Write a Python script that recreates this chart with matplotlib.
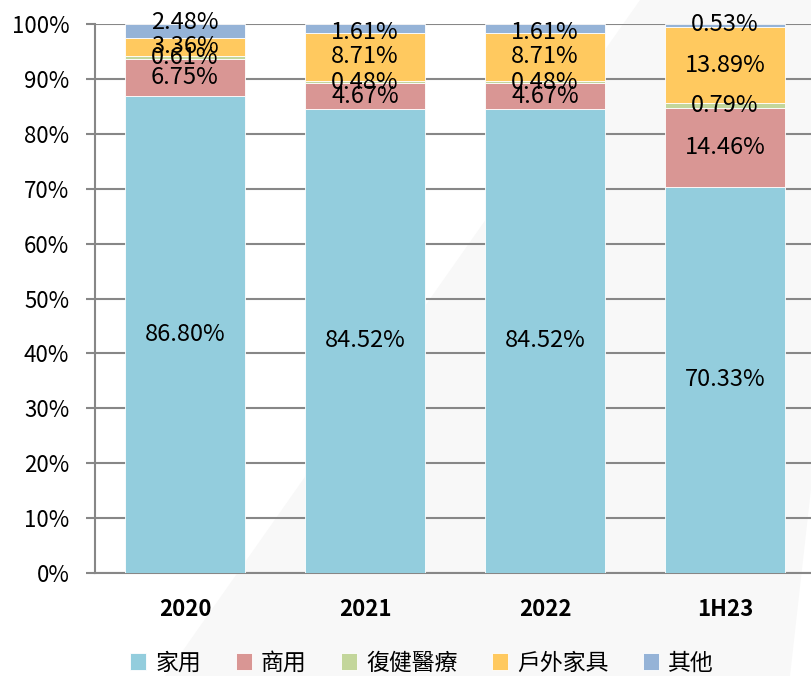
import numpy as np
import matplotlib.pyplot as plt
from matplotlib.patches import Polygon

plt.rcParams['font.family'] = ['Noto Sans CJK TC', 'DejaVu Sans']

# data (share of revenue, %)
years = ['2020', '2021', '2022', '1H23']
series = ['家用', '商用', '復健醫療', '戶外家具', '其他']
home = [86.80, 84.52, 84.52, 70.33]
commercial = [6.75, 4.67, 4.67, 14.46]
medical = [0.61, 0.48, 0.48, 0.79]
outdoor = [3.36, 8.71, 8.71, 13.89]
other = [2.48, 1.61, 1.61, 0.53]
colors = ['#93CDDD', '#D99694', '#C3D69B', '#FFC95F', '#95B3D7']

# small label nudges (points) for the top segment, like the original
top_nudge = [6, -3, -3, 1]

fig = plt.figure(figsize=(8.12, 6.76), dpi=100)

# faint diagonal background band
W, H = 812, 676
pts = [(640, 0), (812, 0), (812, 480), (790, 676), (165, 676)]
band = Polygon([(px / W, 1 - py / H) for px, py in pts], closed=True,
               transform=fig.transFigure, facecolor='#F8F8F8',
               edgecolor='none', zorder=0)
fig.patches.append(band)

ax = fig.add_axes([95/812, 103/676, 720/812, 549/676])
ax.set_zorder(2)
ax.patch.set_alpha(0)

x = np.arange(len(years))
bottom = np.zeros(len(years))
all_vals = [home, commercial, medical, outdoor, other]
for k, (name, vals, c) in enumerate(zip(series, all_vals, colors)):
    vals = np.array(vals) / 100
    ax.bar(x, vals, 0.667, bottom=bottom, color=c, label=name,
           edgecolor='white', linewidth=0.6, zorder=3)
    for i in range(len(years)):
        dy = top_nudge[i] if k == len(series) - 1 else 0
        ax.annotate(f'{vals[i]*100:.2f}%', (x[i], bottom[i] + vals[i] / 2),
                    xytext=(0, dy), textcoords='offset points',
                    ha='center', va='center', fontsize=17, color='black', zorder=5)
    bottom = bottom + vals

ax.set_xlim(-0.5, 3.5)
ax.set_ylim(0, 1)
yt = np.arange(0, 1.01, 0.1)
ax.set_yticks(yt)
ax.set_yticklabels([f'{int(round(t*100))}%' for t in yt], fontsize=16)
ax.set_xticks(x)
ax.set_xticklabels(years, fontsize=16, fontweight='bold')
ax.yaxis.grid(True, color='#878787', linewidth=1.5, zorder=1)
ax.set_axisbelow(True)

for s in ['top', 'right']:
    ax.spines[s].set_visible(False)
for s in ['left', 'bottom']:
    ax.spines[s].set_color('#878787')
    ax.spines[s].set_linewidth(1.5)
ax.tick_params(axis='y', length=6.5, width=1.5, color='#878787', pad=12)
ax.tick_params(axis='x', length=0, pad=18)

fig.legend(loc='center', bbox_to_anchor=(0.52, 1 - 663 / 676), ncol=5, frameon=False,
           fontsize=16.5, handlelength=0.7, handleheight=0.7, handletextpad=0.4,
           columnspacing=1.5, borderpad=0.1)

fig.savefig('out.png', dpi=100)
